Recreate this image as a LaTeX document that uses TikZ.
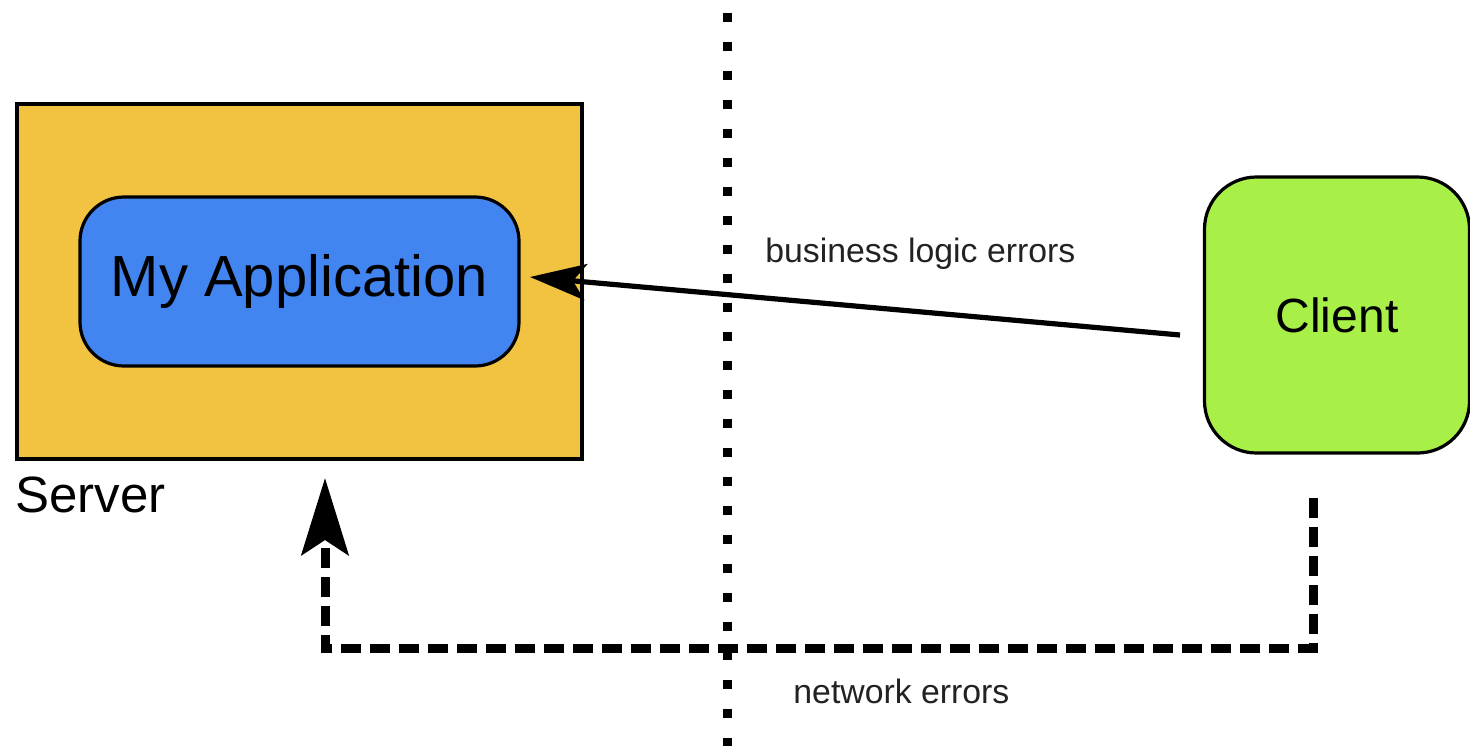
\documentclass[tikz,border=0pt]{standalone}
\usepackage{fontspec}
\setmainfont{Liberation Sans}
\usetikzlibrary{arrows.meta}
\definecolor{servergold}{HTML}{F1C340}
\definecolor{appblue}{HTML}{4285F0}
\definecolor{clientgreen}{HTML}{A8F048}
\definecolor{labelgray}{HTML}{222222}
\tikzset{
  box/.style={draw=black, line width=1.6pt, inner sep=0pt, outer sep=0pt},
  edgelabel/.style={anchor=base west, inner sep=0pt, text=labelgray, font=\fontsize{16.9}{20}\selectfont},
  divider/.style={line width=4.5pt, dash pattern=on 4.5pt off 10pt},
  callarrow/.style={line width=2.6pt, -{Stealth[length=28pt, width=18pt, inset=6.5pt]}},
  netarrow/.style={line width=4.5pt, dash pattern=on 10pt off 4.5pt, miter limit=10,
    -{Stealth[length=38.5pt, width=23.5pt, inset=7.5pt]}}
}
\begin{document}
\begin{tikzpicture}[x=0.5pt, y=-0.5pt]
  \useasboundingbox (0,0) rectangle (1470,745);

  % server container and the application inside it
  \node[box, fill=servergold, minimum width=282.5pt, minimum height=177.5pt]
    (server) at (299.5,281.5) {};
  \node[box, fill=appblue, rounded corners=22pt, minimum width=219.5pt, minimum height=84.5pt,
    font=\fontsize{29}{34}\selectfont] (app) at (299.5,281.5) {My Application};
  \node[anchor=base west, inner sep=0pt, font=\fontsize{25.5}{30}\selectfont]
    (serverlabel) at ([shift={(-2,53)}]server.south west) {Server};

  % client
  \node[box, fill=clientgreen, rounded corners=26pt, minimum width=132.5pt, minimum height=138pt,
    font=\fontsize{24}{28}\selectfont] (client) at (1337,315) {Client};

  % dotted network boundary
  \coordinate (divtop) at (727,12.5);
  \coordinate (divbot) at (727,760);
  \draw[divider] (divtop) -- (divbot);

  % business logic request
  \draw[callarrow] ([shift={(-24.5,20)}]client.west) -- ([shift={(11,-4.5)}]app.east);
  \node[edgelabel] (bizlabel) at (765,262) {business logic errors};

  % network error path
  \draw[netarrow] ([shift={(-24,45)}]client.south) -- ++(0,150) -| ([shift={(25.5,19)}]server.south);
  \node[edgelabel] (netlabel) at (793,703) {network errors};
\end{tikzpicture}
\end{document}
